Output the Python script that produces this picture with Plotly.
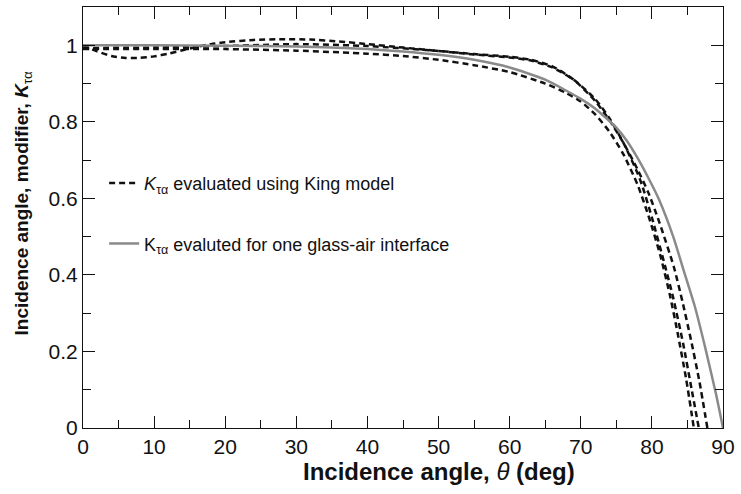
import plotly.graph_objects as go

# incidence angle modifier curves
theta_king1 = [0, 2, 4, 6, 8, 10, 12, 14, 16, 18, 20, 24, 28, 32, 36, 40, 45, 50, 55, 60, 63, 66, 69, 72, 74, 76, 78, 78.7, 80, 81.9, 83, 84.4, 85.6, 86.6]
k_king1 = [1.0, 0.984, 0.972, 0.967, 0.967, 0.971, 0.978, 0.987, 0.996, 1.003, 1.008, 1.014, 1.016, 1.015, 1.01, 1.003, 0.994, 0.985, 0.976, 0.968, 0.96, 0.942, 0.91, 0.86, 0.81, 0.745, 0.665, 0.63, 0.55, 0.42, 0.34, 0.22, 0.1, 0.0]

theta_king2 = [0, 10, 20, 30, 40, 50, 55, 60, 63, 66, 69, 72, 74, 76, 78, 79.5, 81, 83.1, 84.3, 85.5, 86.7, 87.8]
k_king2 = [0.993, 0.994, 0.998, 1.003, 0.998, 0.985, 0.977, 0.97, 0.962, 0.945, 0.91, 0.855, 0.805, 0.745, 0.675, 0.615, 0.54, 0.42, 0.33, 0.23, 0.12, 0.0]

theta_king3 = [0, 10, 20, 30, 40, 45, 50, 55, 60, 65, 68, 70, 72, 74, 76, 78, 79.6, 81.2, 82.5, 83.6, 84.8, 85.9]
k_king3 = [0.99, 0.99, 0.99, 0.986, 0.978, 0.972, 0.962, 0.948, 0.93, 0.9, 0.875, 0.853, 0.82, 0.775, 0.715, 0.635, 0.55, 0.45, 0.35, 0.25, 0.13, 0.0]

theta_glass = [0, 10, 20, 30, 40, 45, 50, 55, 60, 65, 70, 72, 75, 76.5, 78, 79.6, 81, 83, 84.5, 86, 87.5, 89, 90]
k_glass = [1.0, 1.0, 0.999, 0.997, 0.99, 0.984, 0.975, 0.962, 0.942, 0.91, 0.86, 0.835, 0.785, 0.75, 0.705, 0.65, 0.597, 0.5, 0.41, 0.32, 0.21, 0.09, 0.0]

king_curves = [(theta_king1, k_king1), (theta_king2, k_king2), (theta_king3, k_king3)]

fig = go.Figure()

for i, (th, k) in enumerate(king_curves):
    fig.add_trace(go.Scatter(x=th, y=k, mode='lines', line_shape='spline', line_smoothing=0.6,
                             line=dict(color='#111111', width=2.5, dash='6px,4px'),
                             name='<i>K</i><sub>τα</sub> evaluated using King model',
                             legendgroup='king', showlegend=(i == 0)))

fig.add_trace(go.Scatter(x=theta_glass, y=k_glass, mode='lines', line_shape='spline', line_smoothing=0.6,
                         line=dict(color='#8a8a8a', width=2.5),
                         name='K<sub>τα</sub> evaluted for one glass-air interface',
                         legendgroup='glass'))

fig.update_layout(
    width=741, height=494,
    margin=dict(l=83, r=15, t=6, b=66),
    paper_bgcolor='white', plot_bgcolor='white',
    font=dict(family='Liberation Sans, Arial, sans-serif', size=21, color='#111111'),
    legend=dict(x=0.033, y=0.625, xanchor='left', yanchor='top',
                bgcolor='rgba(0,0,0,0)', font=dict(size=18),
                tracegroupgap=34, itemwidth=30),
)

# axis titles as annotations so they sit where the original has them
fig.add_annotation(text='<b>Incidence angle, </b><i>θ</i><b> (deg)</b>', xref='paper', yref='paper',
                   x=0.557, y=-0.104, showarrow=False, font=dict(size=24), xanchor='center', yanchor='middle')
fig.add_annotation(text='<b>Incidence angle, modifier, <i>K</i></b><sub>τα</sub>', xref='paper', yref='paper',
                   x=-0.094, y=0.533, showarrow=False, textangle=-90, font=dict(size=19),
                   xanchor='center', yanchor='middle')

fig.update_xaxes(range=[0, 90], tickvals=list(range(0, 91, 10)),
                 ticks='inside', ticklen=12, tickwidth=1, tickcolor='#111111',
                 tickfont=dict(size=21),
                 minor=dict(tickvals=list(range(5, 90, 10)), ticks='inside', ticklen=8, tickcolor='#111111'),
                 showline=True, linecolor='#111111', linewidth=1, mirror='allticks',
                 showgrid=False, zeroline=False)

fig.update_yaxes(range=[0, 1.1], tickvals=[0, 0.2, 0.4, 0.6, 0.8, 1],
                 ticktext=['0', '0.2', '0.4', '0.6', '0.8', '1'],
                 ticks='inside', ticklen=12, tickwidth=1, tickcolor='#111111',
                 tickfont=dict(size=21),
                 minor=dict(tickvals=[0.1, 0.3, 0.5, 0.7, 0.9], ticks='inside', ticklen=8, tickcolor='#111111'),
                 showline=True, linecolor='#111111', linewidth=1, mirror='allticks',
                 showgrid=False, zeroline=False)

fig.write_html("out.html", config={'displayModeBar': False},
               post_script="document.body.style.margin='0px';")
